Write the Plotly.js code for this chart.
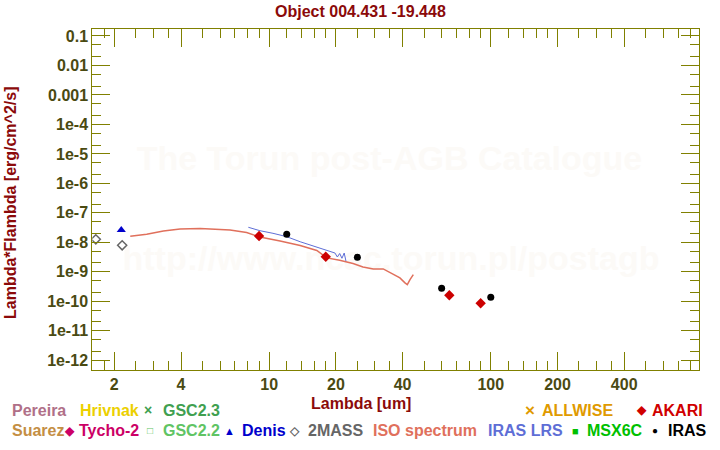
<!DOCTYPE html>
<html>
<head>
<meta charset="utf-8">
<script src="https://cdn.plot.ly/plotly-3.0.1.min.js"></script>
<style>
  html, body { margin: 0; padding: 0; background: #fff; }
  #sed-chart { width: 720px; height: 450px; }
</style>
</head>
<body>
<div id="sed-chart"></div>
<script>
// SED of a post-AGB candidate

// ISO spectrum (um, erg/cm^2/s)
const isoWave = [2.36, 2.80, 3.33, 3.96, 4.88, 5.60, 6.66, 7.91, 9.08, 11.2, 13.8, 16.4,
  18.2, 20.8, 23.9, 26.5, 29.5, 32.7, 34.4, 36.3, 38.9, 41.0, 42.0, 43.2, 44.7];
const isoFlux = [1.61e-8, 1.88e-8, 2.43e-8, 2.85e-8, 2.96e-8, 2.85e-8, 2.63e-8, 2.16e-8, 1.52e-8, 1.11e-8, 7.83e-9, 5.31e-9,
  2.98e-9, 2.47e-9, 1.91e-9, 1.47e-9, 1.26e-9, 1.26e-9, 1.04e-9, 8.07e-10, 6.24e-10, 4.22e-10, 3.70e-10, 5.46e-10, 8.07e-10];

// IRAS LRS spectrum
const lrsWave = [8.05, 9.08, 10.4, 12.0, 13.8, 15.8, 17.9, 19.5, 19.8, 20.3, 20.8, 21.3, 21.8, 22.2];
const lrsFlux = [3.25e-8, 2.49e-8, 2.03e-8, 1.56e-8, 1.05e-8, 7.53e-9, 5.52e-9, 4.47e-9, 4.36e-9, 3.19e-9, 4.19e-9, 2.88e-9, 4.36e-9, 2.33e-9];

// photometry
const twomassWave = [1.65, 2.17];
const twomassFlux = [1.27e-8, 7.96e-9];
const denisWave = [2.15];
const denisFlux = [2.63e-8];
const akariWave = [9, 18, 65, 90];
const akariFlux = [1.64e-8, 3.27e-9, 1.60e-10, 8.57e-11];
const irasWave = [12, 25, 60, 100];
const irasFlux = [1.88e-8, 3.12e-9, 2.77e-10, 1.37e-10];

// axis ticks
const xTickVals = [2, 4, 10, 20, 40, 100, 200, 400];
const xTickText = ["2", "4", "10", "20", "40", "100", "200", "400"];
const xMinorVals = [1.8, 2.5, 3, 3.5, 5, 6, 7, 8, 9, 12, 14, 16, 18, 25, 30, 35,
  50, 60, 70, 80, 90, 120, 140, 160, 180, 250, 300, 350, 500, 600, 700, 800];
const yTickVals = [1e-12, 1e-11, 1e-10, 1e-9, 1e-8, 1e-7, 1e-6, 1e-5, 1e-4, 1e-3, 1e-2, 1e-1];
const yTickText = ["1e-12", "1e-11", "1e-10", "1e-9", "1e-8", "1e-7", "1e-6", "1e-5", "1e-4", "0.001", "0.01", "0.1"];
const yMinorVals = [5e-13, 2e-12, 5e-12, 2e-11, 5e-11, 2e-10, 5e-10, 2e-9, 5e-9, 2e-8, 5e-8,
  2e-7, 5e-7, 2e-6, 5e-6, 2e-5, 5e-5, 2e-4, 5e-4, 2e-3, 5e-3, 2e-2, 5e-2];

// watermark lines
const watermarkText = ["The Torun post-AGB Catalogue", "http://www.ncac.torun.pl/postagb"];

// legend rows: [text, colour, x px]
const legendRow1 = [
  ["Pereira", "#b07088", 10], ["Hrivnak", "#ecd000", 78], ["GSC2.3", "#40a050", 161],
  ["ALLWISE", "#e09a00", 540], ["AKARI", "#d00000", 650]];
const legendRow2 = [
  ["Suarez", "#c48e44", 10], ["Tycho-2", "#cc0066", 77], ["GSC2.2", "#60c464", 161],
  ["Denis", "#0000cc", 240], ["2MASS", "#666666", 306], ["ISO spectrum", "#e0705c", 371],
  ["IRAS LRS", "#5e6ed6", 486], ["MSX6C", "#00c000", 585], ["IRAS", "#000000", 666]];
// legend glyphs: [glyph, colour, x px, row, size]
const legendGlyphs = [
  ["\u00d7", "#40a050", 147.5, 1, 14], ["\u00d7", "#e09a00", 530, 1, 17], ["\u25c6", "#d00000", 641, 1, 12],
  ["\u25c6", "#cc0066", 69.5, 2, 12], ["\u25a1", "#60c464", 149.5, 2, 10], ["\u25b2", "#0000cc", 229.5, 2, 11],
  ["\u25c7", "#666666", 294, 2, 12], ["\u25a0", "#00c000", 575, 2, 11], ["\u25cf", "#000000", 655, 2, 10]];

const W = 720, H = 450;
const FONT = "Liberation Sans, Arial, sans-serif";
const OLIVE = "#808000";
const TICKTXT = "#4a4a12";
const DARKRED = "#8b0a0a";
const plotL = 92.3, plotR = 699.3, plotT = 29.3, plotB = 370;

const px = (x) => x / W;
const py = (y) => 1 - y / H;
// fraction of the plot area, for the watermark behind the data
const fx = (x) => (x - plotL) / (plotR - plotL);
const fy = (y) => (plotB - y) / (plotB - plotT);

const traces = [
  // watermark on the hidden base axes, drawn first so the data sits on top
  { x: [fx(389.5), fx(391)], y: [fy(162), fy(262)], text: watermarkText,
    type: "scatter", mode: "text", xaxis: "x", yaxis: "y", hoverinfo: "skip",
    textfont: { family: FONT, size: 34, color: "#fcfaf7", weight: "bold" } },
  { x: isoWave, y: isoFlux, type: "scatter", mode: "lines", name: "ISO spectrum",
    xaxis: "x2", yaxis: "y2", line: { color: "#e0705c", width: 1.5 } },
  { x: lrsWave, y: lrsFlux, type: "scatter", mode: "lines", name: "IRAS LRS",
    xaxis: "x2", yaxis: "y2", line: { color: "#5e6ed6", width: 1 } },
  { x: twomassWave, y: twomassFlux, type: "scatter", mode: "markers", name: "2MASS",
    xaxis: "x2", yaxis: "y2",
    marker: { symbol: "diamond-open", size: 7, color: "#666666", line: { width: 1.5 } } },
  { x: denisWave, y: denisFlux, type: "scatter", mode: "markers", name: "Denis",
    xaxis: "x2", yaxis: "y2", marker: { symbol: "triangle-up", size: 8, color: "#0000cc" } },
  { x: akariWave, y: akariFlux, type: "scatter", mode: "markers", name: "AKARI",
    xaxis: "x2", yaxis: "y2", marker: { symbol: "diamond", size: 8, color: "#cc0000" } },
  { x: irasWave, y: irasFlux, type: "scatter", mode: "markers", name: "IRAS",
    xaxis: "x2", yaxis: "y2", marker: { symbol: "circle", size: 7, color: "#000000" } },
];

const annotations = [
  { text: "Object 004.431 -19.448", x: px(360), y: py(11.5), font: { size: 16, color: DARKRED } },
  { text: "Lambda [um]", x: px(360.5), y: py(403.5), font: { size: 16, color: DARKRED } },
  { text: "Lambda*Flambda [erg/cm^2/s]", x: px(10), y: py(203), textangle: -90,
    font: { size: 16, color: DARKRED } },
];
for (const [t, c, x] of legendRow1)
  annotations.push({ text: t, x: px(x), y: py(410), xanchor: "left", font: { size: 16, color: c } });
for (const [t, c, x] of legendRow2)
  annotations.push({ text: t, x: px(x), y: py(430.5), xanchor: "left", font: { size: 16, color: c } });
for (const [g, c, x, row, s] of legendGlyphs)
  annotations.push({ text: g, x: px(x), y: py(row === 1 ? 410 : 430.5), font: { size: s, color: c } });

for (const a of annotations) {
  a.xref = "paper"; a.yref = "paper"; a.showarrow = false;
  if (!a.xanchor) a.xanchor = "center";
  a.yanchor = "middle";
  a.font.family = FONT; a.font.weight = "bold";
}

const axisCommon = {
  type: "log", showline: true, linecolor: OLIVE, linewidth: 1, mirror: "ticks",
  ticks: "inside", ticklen: 18, tickwidth: 1, tickcolor: OLIVE, tickmode: "array",
  tickfont: { family: FONT, size: 16, color: TICKTXT, weight: "bold" },
  showgrid: false, zeroline: false, fixedrange: true,
};

Plotly.newPlot("sed-chart", traces, {
  width: W, height: H,
  margin: { l: 0, r: 0, t: 0, b: 0 },
  paper_bgcolor: "#ffffff", plot_bgcolor: "#ffffff",
  showlegend: false,
  xaxis: { domain: [plotL / W, plotR / W], range: [0, 1], visible: false, fixedrange: true },
  yaxis: { domain: [1 - plotB / H, 1 - plotT / H], range: [0, 1], visible: false, fixedrange: true },
  xaxis2: Object.assign({}, axisCommon, {
    overlaying: "x", anchor: "y2",
    range: [Math.log10(1.591), Math.log10(873)],
    tickvals: xTickVals, ticktext: xTickText,
    minor: { tickmode: "array", tickvals: xMinorVals, ticks: "inside", ticklen: 9, tickwidth: 1, tickcolor: OLIVE, showgrid: false },
  }),
  yaxis2: Object.assign({}, axisCommon, {
    overlaying: "y", anchor: "x2",
    range: [-12.329, -0.773],
    tickvals: yTickVals, ticktext: yTickText,
    minor: { tickmode: "array", tickvals: yMinorVals, ticks: "inside", ticklen: 9, tickwidth: 1, tickcolor: OLIVE, showgrid: false },
  }),
  annotations: annotations,
}, { displayModeBar: false, staticPlot: true });
</script>
</body>
</html>
